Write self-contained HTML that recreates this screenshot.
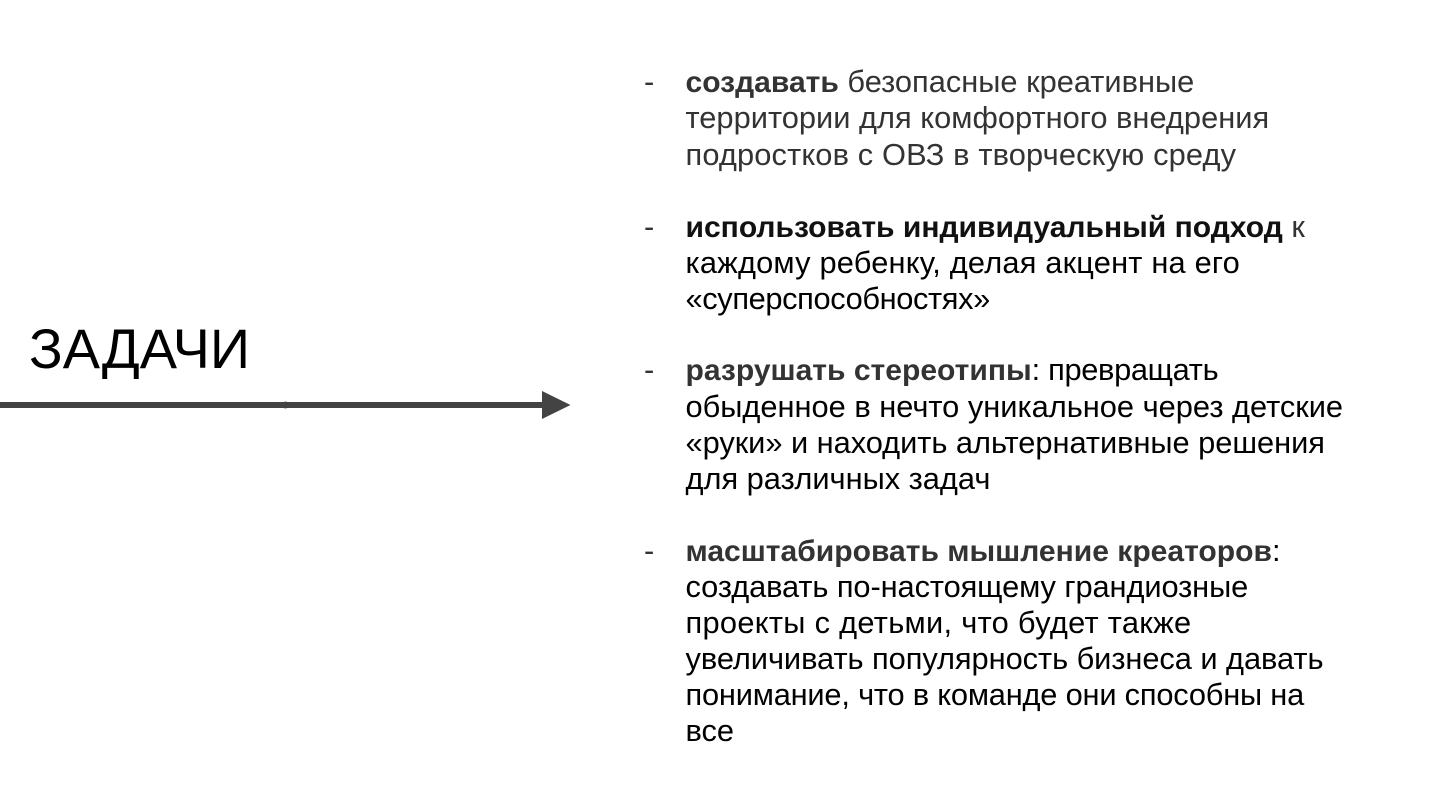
<!DOCTYPE html>
<html lang="ru">
<head>
<meta charset="utf-8">
<style>
html,body{margin:0;padding:0;background:#fff;width:1440px;height:810px;overflow:hidden}
body{position:relative;font-family:"Liberation Sans",Arial,sans-serif}
.l{position:absolute;left:685.5px;font-size:30.8px;line-height:36px;height:36px;white-space:nowrap;color:#000}
.d{position:absolute;left:644px;font-size:30.8px;line-height:36px;height:36px;color:#333}
.g{color:#333}
b{font-weight:700;font-size:30.05px}
#t{position:absolute;left:29px;top:313px;font-size:55.9px;line-height:72px;color:#000;white-space:nowrap}
svg{position:absolute;left:0;top:0}
</style>
</head>
<body>
<div id="t">ЗАДАЧИ</div>
<svg width="1440" height="810"><rect x="0" y="402" width="545" height="6" fill="#434343"/><rect x="284" y="401" width="3" height="8" fill="#434343" opacity=".3"/><polygon points="542,391 570.5,405 542,419" fill="#434343"/></svg>

<div class="d" style="top:64px">-</div>
<div class="l g" style="top:64px"><b>создавать</b> безопасные креативные</div>
<div class="l g" style="top:100px;letter-spacing:.02px">территории для комфортного внедрения</div>
<div class="l g" style="top:137px;letter-spacing:.14px">подростков с ОВЗ в творческую среду</div>

<div class="d" style="top:209px">-</div>
<div class="l" style="top:209px"><b style="color:#111">использовать индивидуальный подход</b> <span class="g">к</span></div>
<div class="l" style="top:245px;letter-spacing:.19px">каждому ребенку, делая акцент на его</div>
<div class="l" style="top:281px;letter-spacing:-.37px">«суперспособностях»</div>

<div class="d" style="top:352px">-</div>
<div class="l" style="top:352px"><b class="g">разрушать стереотипы</b><span style="letter-spacing:-.33px">: превращать</span></div>
<div class="l" style="top:389px">обыденное в нечто уникальное через детские</div>
<div class="l" style="top:425px;letter-spacing:-.03px">«руки» и находить альтернативные решения</div>
<div class="l" style="top:461px">для различных задач</div>

<div class="d" style="top:533px">-</div>
<div class="l" style="top:533px"><b class="g">масштабировать мышление креаторов</b>:</div>
<div class="l" style="top:569px;letter-spacing:-.09px">создавать по-настоящему грандиозные</div>
<div class="l" style="top:605px;letter-spacing:.3px">проекты с детьми, что будет также</div>
<div class="l" style="top:641px;letter-spacing:-.05px">увеличивать популярность бизнеса и давать</div>
<div class="l" style="top:677px;letter-spacing:-.2px">понимание, что в команде они способны на</div>
<div class="l" style="top:713px">все</div>
</body>
</html>
